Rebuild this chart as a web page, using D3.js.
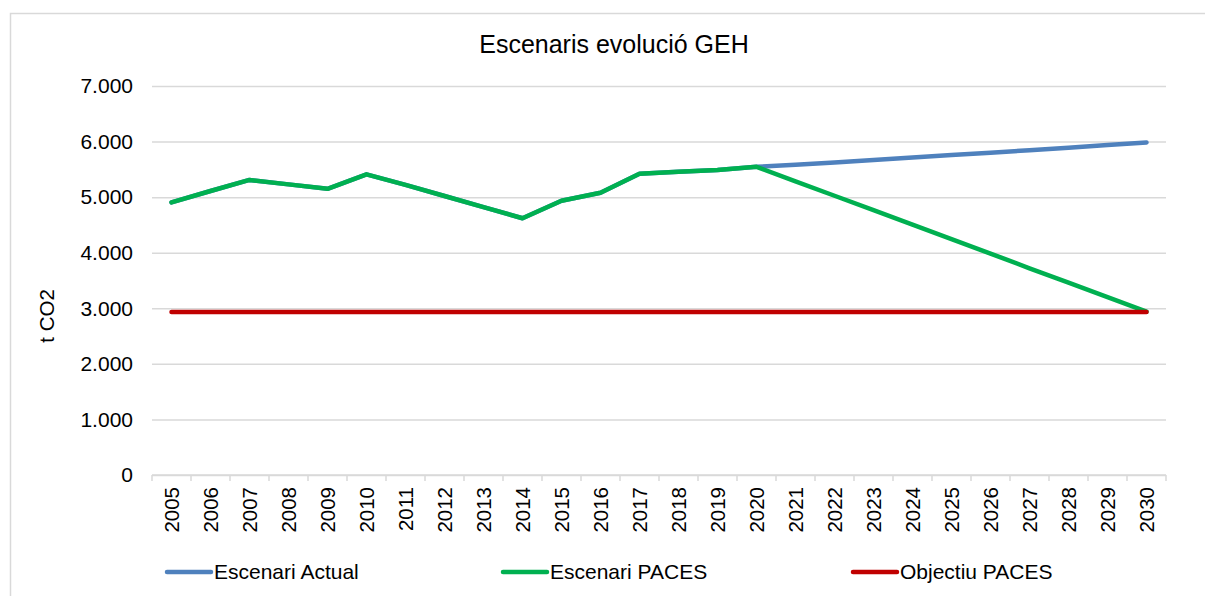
<!DOCTYPE html>
<html lang="ca">
<head>
    <meta charset="UTF-8">
    <title>Escenaris evolució GEH</title>
    <script src="https://d3js.org/d3.v7.min.js"></script>
    <style>
        body { margin: 0; background: white; }
        text { font-family: "Liberation Sans", Arial, sans-serif; fill: #000; }
    </style>
</head>
<body>
<svg id="chart" width="1205" height="596"></svg>
<script>
    // data ---------------------------------------------------------------
    const years = d3.range(2005, 2031).map(String);
    const escenariActual = [4905, 5110, 5310, 5230, 5150, 5410, 5220, 5020, 4820, 4620,
                            4935, 5080, 5420, 5455, 5490, 5545, 5585, 5625, 5670, 5715,
                            5760, 5800, 5845, 5890, 5940, 5985];
    const escenariPaces  = [4905, 5110, 5310, 5230, 5150, 5410, 5220, 5020, 4820, 4620,
                            4935, 5080, 5420, 5455, 5490, 5545, 5285, 5025, 4765, 4505,
                            4245, 3985, 3720, 3460, 3200, 2940];
    const objectiuPaces  = years.map(() => 2935);
    const yTicks = [0, 1000, 2000, 3000, 4000, 5000, 6000, 7000];

    const series = [
        {name: "Escenari Actual", values: escenariActual, color: "#4f81bd"},
        {name: "Escenari PACES", values: escenariPaces, color: "#00b050"},
        {name: "Objectiu PACES", values: objectiuPaces, color: "#c00000"}
    ];

    // svg config ---------------------------------------------------------
    const svg = d3.select("svg#chart");
    const margin = {left: 152, right: 39, top: 86, bottom: 121};
    const width = 1205 - margin.left - margin.right;
    const height = 596 - margin.top - margin.bottom;

    // outer frame
    svg.append("rect")
        .attr("x", 10.5).attr("y", 13.5)
        .attr("width", 1220).attr("height", 620)
        .attr("fill", "none").attr("stroke", "#d9d9d9").attr("stroke-width", 1.5);

    svg.append("text")
        .attr("x", 614).attr("y", 53)
        .attr("text-anchor", "middle")
        .style("font-size", "25px")
        .text("Escenaris evolució GEH");

    const chart = svg.append("g")
        .attr("transform", `translate(${margin.left},${margin.top})`);

    const xScale = d3.scaleBand().domain(years).range([0, width]);
    const yScale = d3.scaleLinear().domain([0, 7000]).range([height, 0]);

    // grid lines
    chart.append("g")
        .attr("class", "grids")
        .call(d3.axisLeft(yScale).tickValues(yTicks).tickSize(-width).tickFormat(""))
        .call(g => g.select(".domain").remove())
        .call(g => g.selectAll("line").attr("stroke", "#d9d9d9").attr("stroke-width", 1.5));

    // y labels
    const fmt = d => d === 0 ? "0" : d3.format(",")(d).replace(/,/g, ".");
    chart.append("g")
        .attr("class", "y axis")
        .call(d3.axisLeft(yScale).tickValues(yTicks).tickSize(0).tickPadding(19).tickFormat(fmt))
        .call(g => g.select(".domain").remove())
        .call(g => g.selectAll("text").style("font-size", "21px").attr("font-family", null));

    // x axis, ticks between categories
    const xAxis = chart.append("g")
        .attr("class", "x axis")
        .attr("transform", `translate(0,${height})`);
    xAxis.append("line")
        .attr("x1", 0).attr("x2", width)
        .attr("stroke", "#d9d9d9").attr("stroke-width", 1.5);
    xAxis.selectAll("line.tick")
        .data(years.concat(["end"]))
        .join("line")
        .attr("class", "tick")
        .attr("x1", (d, i) => i * xScale.step())
        .attr("x2", (d, i) => i * xScale.step())
        .attr("y1", 0).attr("y2", 6)
        .attr("stroke", "#d9d9d9").attr("stroke-width", 1.5);
    xAxis.selectAll("text")
        .data(years)
        .join("text")
        .attr("transform", d => `translate(${xScale(d) + xScale.bandwidth() / 2},12) rotate(-90)`)
        .attr("text-anchor", "end")
        .attr("dy", "0.35em")
        .style("font-size", "20.5px")
        .text(d => d);

    // y title
    svg.append("text")
        .attr("transform", "translate(47,316) rotate(-90)")
        .attr("text-anchor", "middle")
        .attr("dy", "0.35em")
        .style("font-size", "20.5px")
        .text("t CO2");

    // lines
    const lineGen = d3.line()
        .x((d, i) => xScale(years[i]) + xScale.bandwidth() / 2)
        .y(d => yScale(d));

    chart.selectAll("path.series")
        .data(series)
        .join("path")
        .attr("class", "series")
        .attr("fill", "none")
        .attr("stroke", d => d.color)
        .attr("stroke-width", 4.5)
        .attr("stroke-linecap", "round")
        .attr("stroke-linejoin", "round")
        .attr("d", d => lineGen(d.values));

    // legend
    const legendX = [167, 503, 853];
    const legend = svg.selectAll("g.legend")
        .data(series)
        .join("g")
        .attr("class", "legend")
        .attr("transform", (d, i) => `translate(${legendX[i]},572)`);
    legend.append("line")
        .attr("x1", 0).attr("x2", 44)
        .attr("stroke", d => d.color)
        .attr("stroke-width", 4.5)
        .attr("stroke-linecap", "round");
    legend.append("text")
        .attr("x", 47)
        .attr("dy", "0.35em")
        .style("font-size", "21px")
        .text(d => d.name);
</script>
</body>
</html>
